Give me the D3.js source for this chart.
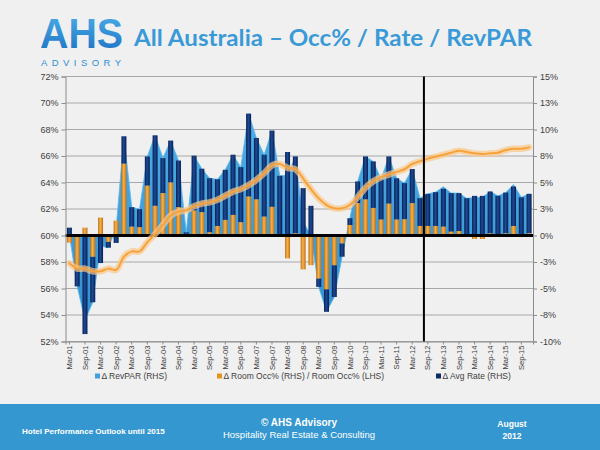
<!DOCTYPE html>
<html><head><meta charset="utf-8">
<script src="https://cdn.jsdelivr.net/npm/d3@7"></script>
<style>body{margin:0;background:#f0f0f0;} svg{display:block}</style>
</head><body>
<svg id="c" width="600" height="450"></svg>
<script>
// ---------- data ----------
const categories = [
 "Mar-01","Jun-01","Sep-01","Dec-01","Mar-02","Jun-02","Sep-02","Dec-02",
 "Mar-03","Jun-03","Sep-03","Dec-03","Mar-04","Jun-04","Sep-04","Dec-04",
 "Mar-05","Jun-05","Sep-05","Dec-05","Mar-06","Jun-06","Sep-06","Dec-06",
 "Mar-07","Jun-07","Sep-07","Dec-07","Mar-08","Jun-08","Sep-08","Dec-08",
 "Mar-09","Jun-09","Sep-09","Dec-09","Mar-10","Jun-10","Sep-10","Dec-10",
 "Mar-11","Jun-11","Sep-11","Dec-11","Mar-12","Jun-12","Sep-12","Dec-12",
 "Mar-13","Jun-13","Sep-13","Dec-13","Mar-14","Jun-14","Sep-14","Dec-14",
 "Mar-15","Jun-15","Sep-15","Dec-15"];
// Δ Room Occ% (RHS, %)
const occChange = [
 -0.68,-3.1,0.74,-2.0,1.69,-0.59,1.4,6.77,0.83,0.78,4.7,2.8,4.0,5.0,2.67,0.15,
 2.35,2.2,0.3,0.9,1.47,1.94,1.25,3.67,3.4,1.78,2.7,0.05,-2.16,0.2,-3.2,-2.8,
 -4.05,-5.07,-2.8,-0.74,0.99,3.05,3.4,2.6,1.5,3.0,1.5,1.53,3.05,0.9,
 0.9,0.9,0.83,0.36,0.42,-0.05,-0.33,-0.33,0.2,0.05,0.2,0.9,0.05,0.2];
// Δ Avg Rate (RHS, %)
const rateChange = [
 0.74,-1.7,-9.3,-4.3,-2.6,-0.56,-0.7,2.59,1.84,1.7,2.76,6.65,3.3,3.95,4.4,0.15,
 5.18,4.1,5.1,4.4,4.73,5.68,5.2,7.83,5.8,5.84,7.2,5.58,7.88,7.26,4.47,2.8,
 -0.8,-2.13,-3.0,-1.26,0.64,2.05,4.06,4.39,3.8,4.46,3.9,3.41,3.22,2.62,
 3.03,3.19,3.57,3.64,3.58,3.52,3.74,3.74,3.95,3.69,3.85,3.72,3.55,3.73];
// Δ RevPAR (RHS, %)
const revparChange = [
 0.1,-4.8,-8.0,-6.3,-1.0,-1.15,0.7,9.36,2.67,2.48,7.46,9.45,7.3,8.95,7.07,0.3,
 7.53,6.3,5.4,5.3,6.2,7.62,6.45,11.5,9.2,7.62,9.9,5.63,5.7,7.46,1.3,0.0,
 -4.85,-7.2,-5.8,-2.0,1.63,5.1,7.46,6.99,5.3,7.46,5.4,4.94,6.27,3.52,
 3.93,4.09,4.6,4.0,4.0,3.5,3.6,3.6,4.15,3.74,4.05,4.8,3.6,3.93];
// Room Occ% level (LHS, %)
const occLevel = [
 57.9,57.5,57.5,57.3,57.3,57.5,57.4,58.4,58.8,58.8,59.5,60.1,60.8,61.5,61.8,61.9,
 62.2,62.4,62.5,62.7,63.0,63.3,63.5,63.8,64.2,64.7,65.3,65.4,65.1,65.0,64.3,63.5,
 62.8,62.3,62.05,62.05,62.3,62.9,63.6,64.1,64.4,64.6,64.8,65.0,65.4,65.6,
 65.8,65.95,66.1,66.25,66.4,66.3,66.2,66.15,66.2,66.25,66.45,66.55,66.55,66.65];
const leftTicks = [52,54,56,58,60,62,64,66,68,70,72];
const rightTicks = [-10,-7.5,-5,-2.5,0,2.5,5,7.5,10,12.5,15];
const rightTickLabels = ["-10%","-8%","-5%","-3%","0%","3%","5%","8%","10%","13%","15%"];
const xTickLabels = categories.filter(c => c.startsWith("Mar") || c.startsWith("Sep"));
const forecastStart = "Sep-12";
const legendItems = [
 {label:"\u0394 RevPAR  (RHS)", key:"revpar"},
 {label:"\u0394 Room Occ% (RHS)  / Room Occ% (LHS)", key:"occ"},
 {label:"\u0394 Avg  Rate (RHS)", key:"rate"}];

// ---------- layout ----------
const svg = d3.select("#c");
const L = 65.5, R = 533, T = 76.5, B = 341.5;
const x = d3.scaleBand().domain(categories).range([L, R]);
const yL = d3.scaleLinear().domain([52, 72]).range([B, T]);
const yR = d3.scaleLinear().domain([-10, 15]).range([B, T]);
const cx = c => x(c) + x.bandwidth() / 2;
const barW = x.bandwidth() * 0.64;

svg.append("rect").attr("width",600).attr("height",450).attr("fill","#f0f0f0");

const defs = svg.append("defs");
function hGrad(id, edge, mid) {
  const g = defs.append("linearGradient").attr("id", id).attr("x1","0").attr("x2","1").attr("y1","0").attr("y2","0");
  g.append("stop").attr("offset","0%").attr("stop-color", edge);
  g.append("stop").attr("offset","45%").attr("stop-color", mid);
  g.append("stop").attr("offset","100%").attr("stop-color", edge);
}
hGrad("gNavy", "#071d4e", "#1d4b98");
hGrad("gOrange", "#c0700f", "#f7b250");
const ga = defs.append("linearGradient").attr("id","gArea").attr("x1","0").attr("x2","0").attr("y1","0").attr("y2","1");
ga.append("stop").attr("offset","0%").attr("stop-color","#4eaee6");
ga.append("stop").attr("offset","100%").attr("stop-color","#3390d0");
const gl = defs.append("linearGradient").attr("id","gLogo").attr("x1","0").attr("x2","0").attr("y1","0").attr("y2","1");
gl.append("stop").attr("offset","0%").attr("stop-color","#4fb3ec");
gl.append("stop").attr("offset","100%").attr("stop-color","#1a6ec0");

// ---------- header ----------
svg.append("text").attr("x",40).attr("y",48).attr("font-family","Liberation Sans, Arial, sans-serif")
  .attr("font-weight","bold").attr("font-size",43).attr("fill","url(#gLogo)")
  .attr("textLength",83).attr("lengthAdjust","spacingAndGlyphs").text("AHS");
svg.append("text").attr("x",41).attr("y",66).attr("font-family","Liberation Sans, Arial, sans-serif")
  .attr("font-size",9.5).attr("fill","#2f8fd6").attr("textLength",80)
  .attr("lengthAdjust","spacing").text("ADVISORY");
svg.append("text").attr("x",134).attr("y",46).attr("font-family","Lato, sans-serif")
  .attr("font-weight","700").attr("font-size",23).attr("fill","#3a9ad8")
  .attr("textLength",398).attr("lengthAdjust","spacingAndGlyphs")
  .text("All Australia \u2013 Occ% / Rate / RevPAR");

// ---------- grid ----------
svg.append("g").selectAll("line").data(leftTicks).join("line")
  .attr("x1",L).attr("x2",R).attr("y1",d=>yL(d)).attr("y2",d=>yL(d))
  .attr("stroke","#a8a8a8").attr("stroke-width",1);

// ---------- RevPAR area ----------
const area = d3.area().x((d,i)=>cx(categories[i])).y0(yR(0)).y1(d=>yR(d));
svg.append("path").datum(revparChange).attr("d",area)
  .attr("fill","url(#gArea)").attr("stroke","#58b6ea").attr("stroke-width",0.8);

// ---------- stacked bars ----------
const bars = categories.map((c,i) => {
  const o = occChange[i], r = rateChange[i];
  const rBase = (o >= 0) === (r >= 0) ? o : 0;
  return {c, o, r, rBase};
});
const gb = svg.append("g");
gb.selectAll("rect.rate").data(bars).join("rect").attr("class","rate")
  .attr("x",d=>cx(d.c)-barW/2).attr("width",barW)
  .attr("y",d=>yR(Math.max(d.rBase, d.rBase + d.r)))
  .attr("height",d=>Math.abs(yR(d.rBase) - yR(d.rBase + d.r)))
  .attr("fill","url(#gNavy)");
gb.selectAll("rect.occ").data(bars).join("rect").attr("class","occ")
  .attr("x",d=>cx(d.c)-barW/2).attr("width",barW)
  .attr("y",d=>yR(Math.max(0, d.o)))
  .attr("height",d=>Math.abs(yR(0) - yR(d.o)))
  .attr("fill","url(#gOrange)");

// ---------- zero line ----------
svg.append("line").attr("x1",L).attr("x2",R).attr("y1",yR(0)).attr("y2",yR(0))
  .attr("stroke","#000").attr("stroke-width",3);

// ---------- occupancy line ----------
const line = d3.line().x((d,i)=>cx(categories[i])).y(d=>yL(d)).curve(d3.curveCatmullRom.alpha(0.5));
svg.append("path").datum(occLevel).attr("d",line).attr("fill","none")
  .attr("stroke","#fbc88a").attr("stroke-opacity",0.7).attr("stroke-width",6.5).attr("stroke-linecap","round");
svg.append("path").datum(occLevel).attr("d",line).attr("fill","none")
  .attr("stroke","#f7a23a").attr("stroke-width",2).attr("stroke-linecap","round");

// ---------- forecast divider ----------
svg.append("line").attr("x1",x(forecastStart)).attr("x2",x(forecastStart))
  .attr("y1",T).attr("y2",B).attr("stroke","#000").attr("stroke-width",2);

// ---------- axes ----------
const axisFont = "Liberation Sans, Arial, sans-serif";
const gL = svg.append("g").attr("transform",`translate(${L},0)`)
  .call(d3.axisLeft(yL).tickValues(leftTicks).tickSize(4).tickPadding(3).tickFormat(d=>d+"%"));
const gR = svg.append("g").attr("transform",`translate(${R},0)`)
  .call(d3.axisRight(yR).tickValues(rightTicks).tickSize(4).tickPadding(3)
    .tickFormat((d,i)=>rightTickLabels[i]));
const gX = svg.append("g").attr("transform",`translate(0,${B})`)
  .call(d3.axisBottom(x).tickValues(xTickLabels).tickSize(3).tickPadding(2));
gX.selectAll("text").attr("transform","rotate(-90)").attr("text-anchor","end")
  .attr("dx","0").attr("dy","0.35em").attr("x",-4).attr("y",0);
[gL,gR,gX].forEach(g => {
  g.selectAll("path.domain").attr("stroke","#8c8c8c");
  g.selectAll(".tick line").attr("stroke","#8c8c8c");
  g.selectAll("text").attr("font-family",axisFont).attr("fill","#404040");
});
gL.selectAll("text").attr("font-size",9);
gR.selectAll("text").attr("font-size",9);
gX.selectAll("text").attr("font-size",7.6);

// ---------- legend ----------
const legColors = {revpar:"#3fa0da", occ:"#e8931f", rate:"#0d2a66"};
const legX = [95, 217, 436];
const lg = svg.append("g").selectAll("g").data(legendItems).join("g")
  .attr("transform",(d,i)=>`translate(${legX[i]},379)`);
lg.append("rect").attr("x",0).attr("y",-5.5).attr("width",5).attr("height",5)
  .attr("fill",d=>legColors[d.key]);
lg.append("text").attr("x",6.5).attr("y",0).attr("font-family",axisFont)
  .attr("font-size",8.5).attr("fill","#404040").text(d=>d.label);

// ---------- footer ----------
svg.append("rect").attr("x",0).attr("y",404).attr("width",600).attr("height",46).attr("fill","#3497d0");
const ff = "Liberation Sans, Arial, sans-serif";
svg.append("text").attr("x",22).attr("y",434).attr("font-family",ff).attr("font-weight","bold")
  .attr("font-size",8).attr("fill","#fff").text("Hotel Performance Outlook until 2015");
svg.append("text").attr("x",299).attr("y",426).attr("text-anchor","middle").attr("font-family",ff)
  .attr("font-weight","bold").attr("font-size",10).attr("fill","#fff").text("\u00A9 AHS Advisory");
svg.append("text").attr("x",299).attr("y",438).attr("text-anchor","middle").attr("font-family",ff)
  .attr("font-size",9.5).attr("fill","#fff").text("Hospitality  Real Estate & Consulting");
svg.append("text").attr("x",512).attr("y",427).attr("text-anchor","middle").attr("font-family",ff)
  .attr("font-weight","bold").attr("font-size",8.5).attr("fill","#fff").text("August");
svg.append("text").attr("x",512).attr("y",439).attr("text-anchor","middle").attr("font-family",ff)
  .attr("font-weight","bold").attr("font-size",8.5).attr("fill","#fff").text("2012");
</script>
</body></html>
